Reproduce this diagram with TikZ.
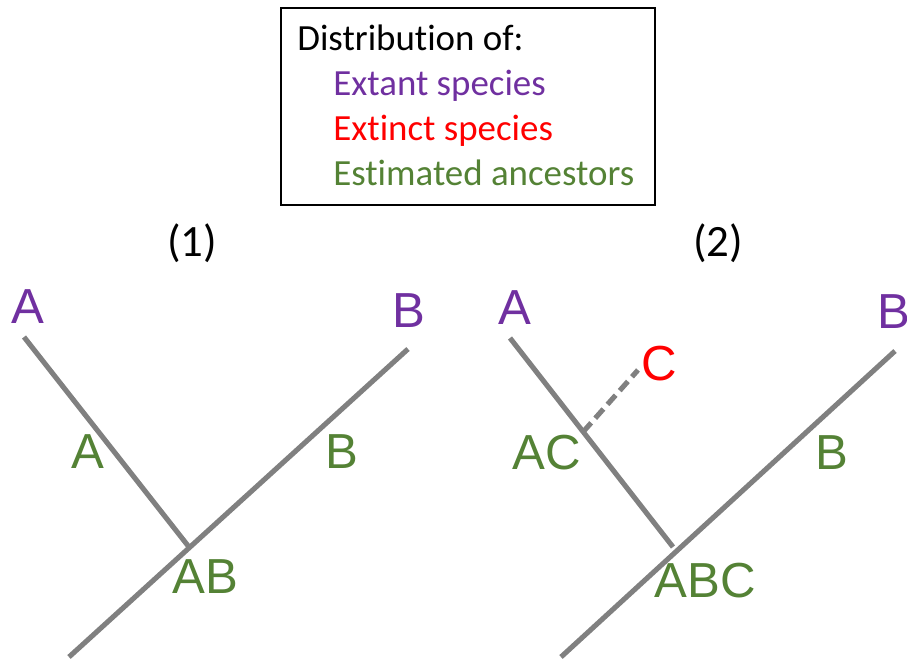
\documentclass[tikz,border=0pt]{standalone}
\usepackage{fontspec}
\setmainfont{Carlito}[Ligatures=NoCommon]
\newfontfamily\arialfont{Liberation Sans}
\usetikzlibrary{calc}

\definecolor{extantpurple}{HTML}{7030A0}
\definecolor{ancestorgreen}{HTML}{548235}
\definecolor{branchgray}{HTML}{808080}

\begin{document}
\begin{tikzpicture}[
  x=0.02cm, y=-0.02cm,
  branch/.style={draw=branchgray, line width=2.9pt},
  lost/.style={branch, dash pattern=on 7pt off 3.5pt},
  taxon/.style={font=\arialfont\fontsize{28}{28}\selectfont, inner sep=0pt},
  legendtxt/.style={font=\fontsize{21}{25}\selectfont, anchor=base west, inner sep=0pt},
]
\useasboundingbox (0,0) rectangle (907,663);

% ===== legend =====
\node (legend) [draw=black, thick, minimum width=7.48cm, minimum height=3.94cm] at (468,106.5) {};
\node (lgtitle) [legendtxt] at (297,50) {Distribution of:};
\node (lgextant) [legendtxt, text=extantpurple] at (333,95) {Extant species};
\node (lgextinct) [legendtxt, text=red] at (333,140) {Extinct species};
\node (lganc) [legendtxt, text=ancestorgreen] at (333,185) {Estimated ancestors};

% ===== panel titles =====
\node (title1) [font=\fontsize{25.5}{25.5}\selectfont] at (192,243) {(1)};
\node (title2) [font=\fontsize{25.5}{25.5}\selectfont] at (718,243) {(2)};

% ===== tree (1) =====
\coordinate (tipA1) at (24,337);
\coordinate (tipB1) at (408,349);
\coordinate (rootAB) at (69,657);
\coordinate (nodeAB) at (189,547);
\draw[branch] (tipA1) -- (nodeAB);
\draw[branch] (rootAB) -- (tipB1);

\node (extA1) [taxon, text=extantpurple] at (28,307) {A};
\node (extB1) [taxon, text=extantpurple] at (409,311) {B};
\node (ancA1) [taxon, text=ancestorgreen] at (88,452) {A};
\node (ancB1) [taxon, text=ancestorgreen] at (342,452) {B};
\node (ancAB) [taxon, text=ancestorgreen] at (205,577) {AB};

% ===== tree (2) =====
\coordinate (tipA2) at (510,338);
\coordinate (tipB2) at (895,351);
\coordinate (rootABC) at (561,657);
\coordinate (nodeABC) at (673,547);
\coordinate (nodeAC) at (583,432);
\coordinate (tipC) at (638,370);
\draw[branch] (tipA2) -- (nodeABC);
\draw[branch] (rootABC) -- (tipB2);
\draw[lost] (nodeAC) -- (tipC);

\node (extA2) [taxon, text=extantpurple] at (515,308) {A};
\node (extB2) [taxon, text=extantpurple] at (894,312) {B};
\node (extC) [taxon, text=red] at (659,364) {C};
\node (ancAC) [taxon, text=ancestorgreen] at (547,453) {AC};
\node (ancB2) [taxon, text=ancestorgreen] at (832,453) {B};
\node (ancABC) [taxon, text=ancestorgreen] at (705,581) {ABC};
\end{tikzpicture}
\end{document}
